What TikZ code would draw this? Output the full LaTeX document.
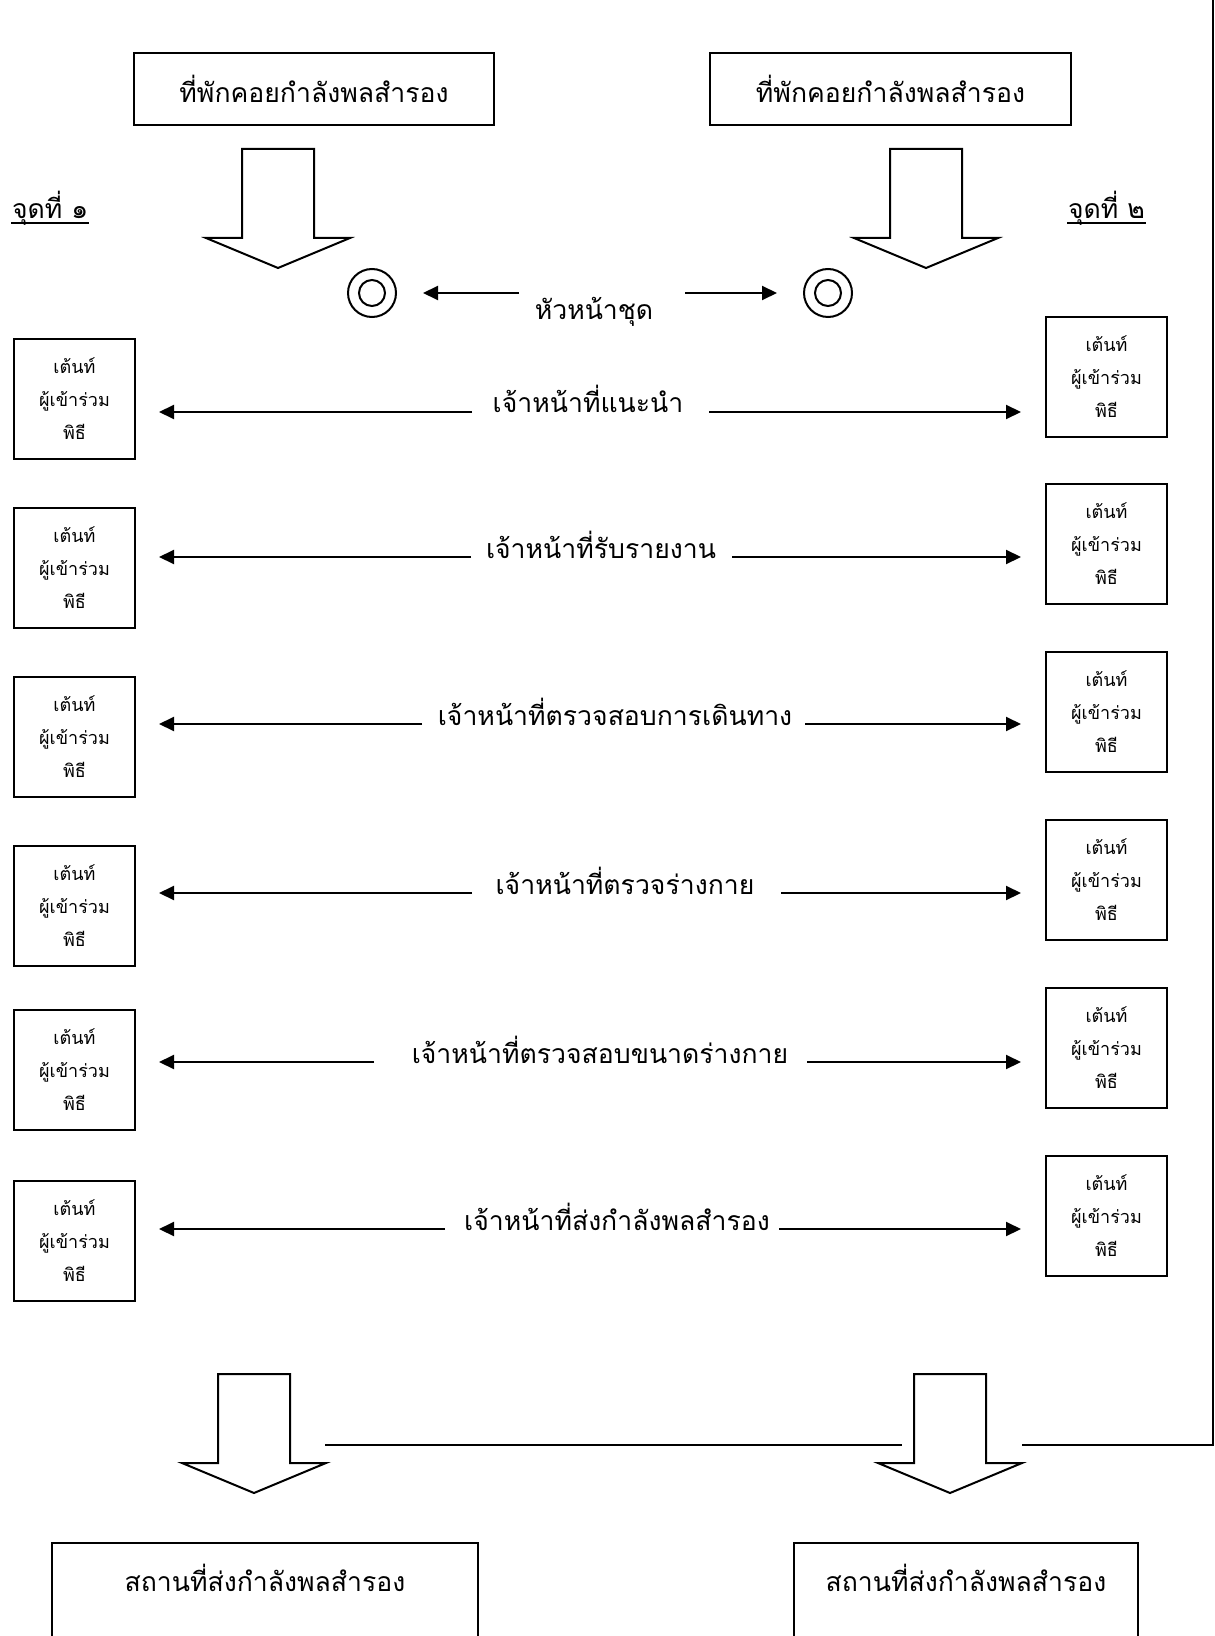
\documentclass[tikz,border=0pt]{standalone}
\usepackage{fontspec}
\setmainfont[Script=Thai]{Loma}
\usepackage{tikz}
\usetikzlibrary{arrows.meta}

\begin{document}
\begin{tikzpicture}[x=0.5pt,y=-0.5pt,line width=1pt,
  big/.style={font=\fontsize{13.3}{16}\selectfont},
  hostbox/.style={draw,big,minimum height=36pt,inner sep=0pt},
  tent/.style={draw,font=\fontsize{9}{16.5}\selectfont,align=center,minimum width=60.5pt,minimum height=60pt,inner sep=0pt},
  arr/.style={-{Triangle[length=7.5pt,width=7pt]}},
  pics/fatarrow/.style={code={\draw[line join=miter] (-36,0) -- (36,0) -- (36,89) -- (72,89) -- (0,119) -- (-72,89) -- (-36,89) -- cycle;}}]
\useasboundingbox (0,0) rectangle (1214,1636);

\node[hostbox,minimum width=180pt] (wait1) at (314,89) {ที่พักคอยกำลังพลสำรอง};
\node[hostbox,minimum width=180.5pt] (wait2) at (890.5,89) {ที่พักคอยกำลังพลสำรอง};
\pic at (278,149) {fatarrow};
\pic at (926,149) {fatarrow};

\node[big,anchor=base west,inner sep=0pt] (pt1) at (11,219) {จุดที่ ๑};
\node[big,anchor=base east,inner sep=0pt] (pt2) at (1146,219) {จุดที่ ๒};
\draw ([yshift=-2pt]pt1.base west) -- ([yshift=-2pt]pt1.base east);
\draw ([yshift=-2pt]pt2.base west) -- ([yshift=-2pt]pt2.base east);

\node[circle,draw,minimum size=24pt,inner sep=0pt] (ring1) at (372,293) {};
\node[circle,draw,minimum size=24pt,inner sep=0pt] (ring2) at (828,293) {};
\draw (ring1.center) circle (13);
\draw (ring2.center) circle (13);
\node[big] (lead) at (594,312) {หัวหน้าชุด};
\coordinate (h1) at (519,293);
\coordinate (h2) at (685,293);
\draw[arr,shorten >=13pt] (h1) -- (ring1);
\draw[arr,shorten >=13pt] (h2) -- (ring2);

\foreach \i/\yl/\yr/\ya/\xt/\xl/\xr/\txt in
{1/399/377/412/588/472/709/เจ้าหน้าที่แนะนำ,
 2/568/544/557/601/471/732/เจ้าหน้าที่รับรายงาน,
 3/737/712/724/615/422/805/เจ้าหน้าที่ตรวจสอบการเดินทาง,
 4/906/880/893/625/472/781/เจ้าหน้าที่ตรวจร่างกาย,
 5/1070/1048/1062/600/374/807/เจ้าหน้าที่ตรวจสอบขนาดร่างกาย,
 6/1241/1216/1229/617/445/779/เจ้าหน้าที่ส่งกำลังพลสำรอง} {
  \node[tent] (tl\i) at (74.5,\yl) {เต้นท์\\ผู้เข้าร่วม\\พิธี};
  \node[tent] (tr\i) at (1106.5,\yr) {เต้นท์\\ผู้เข้าร่วม\\พิธี};
  \node[big,anchor=base] (job\i) at (\xt,\ya+1) {\txt};
  \coordinate (al\i) at (\xl,\ya);
  \coordinate (ar\i) at (\xr,\ya);
  \draw[arr,shorten >=11.5pt] (al\i) -- (tl\i.east |- al\i);
  \draw[arr,shorten >=12pt] (ar\i) -- (tr\i.west |- ar\i);
}

\pic at (254,1374) {fatarrow};
\pic at (950,1374) {fatarrow};
\coordinate (j1) at (325,1445);
\coordinate (j2) at (902,1445);
\coordinate (j3) at (1022,1445);
\coordinate (j4) at (1213,1445);
\coordinate (j5) at (1213,0);
\draw (j1) -- (j2);
\draw (j3) -- (j4) -- (j5);

\node[draw,big,anchor=north,minimum width=213pt,inner xsep=0pt,inner ysep=0pt,text height=24pt,text depth=60pt] (drop1) at (265,1542) {สถานที่ส่งกำลังพลสำรอง};
\node[draw,big,anchor=north,minimum width=172pt,inner xsep=0pt,inner ysep=0pt,text height=24pt,text depth=60pt] (drop2) at (966,1542) {สถานที่ส่งกำลังพลสำรอง};
\end{tikzpicture}
\end{document}
